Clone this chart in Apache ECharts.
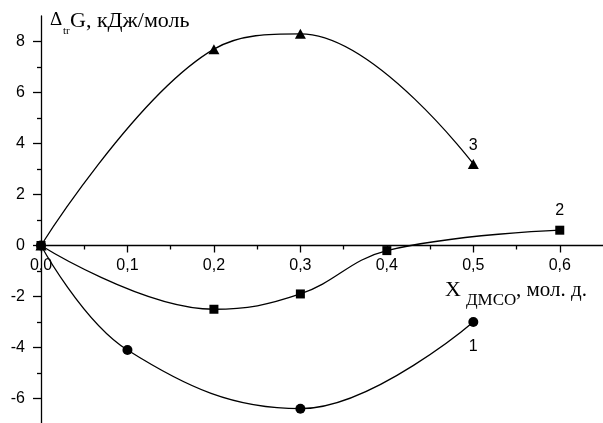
<!DOCTYPE html>
<html>
<head>
<meta charset="utf-8">
<script src="https://cdn.jsdelivr.net/npm/echarts@6/dist/echarts.min.js"></script>
<style>
  html, body { margin: 0; padding: 0; background: #fff; }
  #chart { width: 603px; height: 423px; }
</style>
</head>
<body>
<div id="chart"></div>
<script>
// Gibbs energy of transfer vs. DMSO mole fraction, three systems
const curveNames = ['1', '2', '3'];

const curve1X = [0, 0.1, 0.3, 0.5];
const curve1Y = [0, -4.1, -6.4, -3.0];

const curve2X = [0, 0.2, 0.3, 0.4, 0.6];
const curve2Y = [0, -2.5, -1.9, -0.2, 0.6];

const curve3X = [0, 0.2, 0.3, 0.5];
const curve3Y = [0, 7.7, 8.3, 3.2];

const xMajorTicks = [0, 0.1, 0.2, 0.3, 0.4, 0.5, 0.6];
const xMinorTicks = [0.05, 0.15, 0.25, 0.35, 0.45, 0.55];
const yMajorTicks = [-6, -4, -2, 0, 2, 4, 6, 8];
const yMinorTicks = [-5, -3, -1, 1, 3, 5, 7];

const serif = '"Liberation Serif", "Times New Roman", serif';
const sans = '"Liberation Sans", Arial, sans-serif';

// plot frame
const GRID_TOP = 16, GRID_H = 408, GRID_LEFT = 41;
const Y_MIN = -7, Y_MAX = 9, X_MIN = 0, X_MAX = 0.65;
// the x axis crosses the y axis at zero
const xAxisOffset = -GRID_H * (0 - Y_MIN) / (Y_MAX - Y_MIN);

function pairs(xs, ys) {
  return xs.map((x, i) => [x, ys[i]]);
}

function withEndLabel(data, name, pos, dist) {
  const last = data.length - 1;
  return data.map((p, i) => i === last ? {
    value: p,
    label: {
      show: true, formatter: name, position: pos, distance: dist,
      color: '#000', fontFamily: sans, fontSize: 16
    }
  } : p);
}

const chart = echarts.init(document.getElementById('chart'), null, { renderer: 'canvas' });

const lineBase = {
  type: 'line',
  smooth: 0.4,
  color: '#000',
  lineStyle: { color: '#000', width: 1.3 },
  itemStyle: { color: '#000' },
  emphasis: { disabled: true },
  z: 3
};

const tickLine = { color: '#000', width: 1.3 };

chart.setOption({
  animation: false,
  grid: {
    left: GRID_LEFT, top: GRID_TOP, width: 603 - GRID_LEFT, height: GRID_H,
    containLabel: false, outerBoundsMode: 'none'
  },
  xAxis: [
    {
      type: 'value', min: X_MIN, max: X_MAX, position: 'bottom', offset: xAxisOffset,
      axisLine: { show: true, onZero: false, lineStyle: tickLine },
      axisTick: { show: true, inside: false, length: 7, customValues: xMajorTicks, lineStyle: tickLine },
      axisLabel: {
        show: true, margin: 12, customValues: xMajorTicks,
        formatter: v => v.toFixed(1).replace('.', ','),
        color: '#000', fontFamily: sans, fontSize: 16
      },
      splitLine: { show: false }
    },
    {
      type: 'value', min: X_MIN, max: X_MAX, position: 'bottom', offset: xAxisOffset,
      axisLine: { show: false, onZero: false },
      axisTick: { show: true, inside: false, length: 4, customValues: xMinorTicks, lineStyle: tickLine },
      axisLabel: { show: false },
      splitLine: { show: false }
    }
  ],
  yAxis: [
    {
      type: 'value', min: Y_MIN, max: Y_MAX, interval: 1, position: 'left',
      axisLine: { show: true, onZero: false, lineStyle: tickLine },
      axisTick: { show: true, length: 8, customValues: yMajorTicks, lineStyle: tickLine },
      axisLabel: {
        show: true, margin: 16, customValues: yMajorTicks,
        color: '#000', fontFamily: sans, fontSize: 16
      },
      splitLine: { show: false }
    },
    {
      type: 'value', min: Y_MIN, max: Y_MAX, interval: 1, position: 'left',
      axisLine: { show: false, onZero: false },
      axisTick: { show: true, length: 4, customValues: yMinorTicks, lineStyle: tickLine },
      axisLabel: { show: false },
      splitLine: { show: false }
    }
  ],
  series: [
    Object.assign({}, lineBase, {
      name: curveNames[0], symbol: 'circle', symbolSize: 10,
      data: withEndLabel(pairs(curve1X, curve1Y), curveNames[0], 'bottom', 12)
    }),
    Object.assign({}, lineBase, {
      name: curveNames[1], symbol: 'rect', symbolSize: 9,
      data: withEndLabel(pairs(curve2X, curve2Y), curveNames[1], 'top', 7)
    }),
    Object.assign({}, lineBase, {
      name: curveNames[2], symbol: 'triangle', symbolSize: [11, 10],
      data: withEndLabel(pairs(curve3X, curve3Y), curveNames[2], 'top', 5)
    })
  ],
  graphic: [
    { type: 'text', left: 50, top: 11, style: { text: 'Δ', font: '19px ' + serif, fill: '#000' } },
    { type: 'text', left: 63, top: 26, style: { text: 'tr', font: '11px ' + serif, fill: '#000' } },
    { type: 'text', left: 70, top: 10, style: { text: 'G, кДж/моль', font: '22px ' + serif, fill: '#000' } },
    { type: 'text', left: 445, top: 279, style: { text: 'X', font: '22px ' + serif, fill: '#000' } },
    { type: 'text', left: 466, top: 292, style: { text: 'ДМСО', font: '17px ' + serif, fill: '#000' } },
    { type: 'text', left: 516, top: 280, style: { text: ', мол. д.', font: '21px ' + serif, fill: '#000' } }
  ]
});
</script>
</body>
</html>
